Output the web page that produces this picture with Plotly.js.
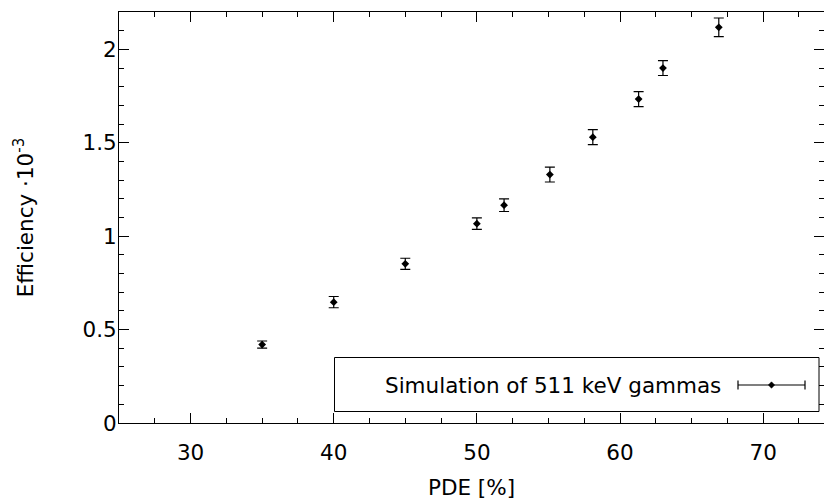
<!DOCTYPE html>
<html>
<head>
<meta charset="utf-8">
<script src="https://cdn.plot.ly/plotly-3.0.1.min.js"></script>
<style>html,body{margin:0;padding:0;background:#fff;}#chart{width:824px;height:502px;}</style>
</head>
<body>
<div id="chart"></div>
<script>
// Data
const pde = [35.0, 40.0, 45.0, 50.0, 51.9, 55.1, 58.1, 61.3, 63.0, 66.9];
const efficiency = [0.420, 0.647, 0.852, 1.067, 1.166, 1.330, 1.530, 1.734, 1.900, 2.118];
const efficiencyErr = [0.019, 0.030, 0.030, 0.031, 0.034, 0.040, 0.040, 0.040, 0.040, 0.050];
const seriesName = 'Simulation of 511 keV gammas';
const xTitle = 'PDE [%]';
const yTitle = 'Efficiency ·10<sup>-3</sup>';

const W = 824, H = 502;
const M = {l: 119, r: 0, t: 12, b: 79};
const PW = W - M.l - M.r, PH = H - M.t - M.b;
const px = x => (x - M.l) / PW;
const py = y => (H - M.b - y) / PH;

const font = {family: 'DejaVu Sans, sans-serif', size: 21.5, color: '#000'};

const trace = {
  x: pde, y: efficiency, type: 'scatter', mode: 'markers', name: seriesName,
  marker: {symbol: 'diamond', size: 6, color: '#000'},
  error_y: {type: 'data', array: efficiencyErr, visible: true, color: '#000', thickness: 1.2, width: 5},
  showlegend: false
};

// Legend drawn gnuplot-style
const lg = {x0: 334.5, x1: 819, y0: 357.5, y1: 411.5, sy: 385, sx0: 738, sx1: 805, sxm: 771.5};
const d = 3.2;
const shapes = [
  {type: 'rect', xref: 'paper', yref: 'paper', x0: px(lg.x0), x1: px(lg.x1), y0: py(lg.y1), y1: py(lg.y0),
   line: {color: '#000', width: 1}, fillcolor: '#fff', layer: 'above'},
  {type: 'line', xref: 'paper', yref: 'paper', x0: px(lg.sx0), x1: px(lg.sx1), y0: py(lg.sy), y1: py(lg.sy), line: {color: '#000', width: 1.2}},
  {type: 'line', xref: 'paper', yref: 'paper', x0: px(lg.sx0), x1: px(lg.sx0), y0: py(lg.sy - 4.5), y1: py(lg.sy + 4.5), line: {color: '#000', width: 1.2}},
  {type: 'line', xref: 'paper', yref: 'paper', x0: px(lg.sx1), x1: px(lg.sx1), y0: py(lg.sy - 4.5), y1: py(lg.sy + 4.5), line: {color: '#000', width: 1.2}},
  {type: 'path', xref: 'paper', yref: 'paper', fillcolor: '#000', line: {color: '#000', width: 0.5},
   path: `M ${px(lg.sxm - d)} ${py(lg.sy)} L ${px(lg.sxm)} ${py(lg.sy - d)} L ${px(lg.sxm + d)} ${py(lg.sy)} L ${px(lg.sxm)} ${py(lg.sy + d)} Z`}
];

const layout = {
  width: W, height: H, margin: M,
  paper_bgcolor: '#fff', plot_bgcolor: '#fff',
  font: font, showlegend: false,
  xaxis: {
    range: [25, 74.25], dtick: 10, tick0: 0, ticks: 'inside', ticklen: 10, tickwidth: 1, tickcolor: '#000',
    minor: {dtick: 2.5, ticks: 'inside', ticklen: 5, tickwidth: 1, tickcolor: '#000', showgrid: false},
    showline: true, linecolor: '#000', linewidth: 1, mirror: 'allticks', showgrid: false, zeroline: false,
    tickfont: font, ticklabelstandoff: 10,
    title: {text: xTitle, font: font, standoff: 16}, automargin: false
  },
  yaxis: {
    range: [0, 2.2], dtick: 0.5, tick0: 0, ticks: 'inside', ticklen: 10, tickwidth: 1, tickcolor: '#000',
    minor: {dtick: 0.1, ticks: 'inside', ticklen: 5, tickwidth: 1, tickcolor: '#000', showgrid: false},
    showline: true, linecolor: '#000', linewidth: 1, mirror: 'allticks', showgrid: false, zeroline: false,
    tickfont: font, ticklabelstandoff: -3,
    title: {text: yTitle, font: font, standoff: 42}, automargin: false
  },
  shapes: shapes,
  annotations: [
    {xref: 'paper', yref: 'paper', x: px(723), y: py(lg.sy), xanchor: 'right', yanchor: 'middle',
     text: seriesName, showarrow: false, font: font}
  ]
};

Plotly.newPlot('chart', [trace], layout, {staticPlot: true, displayModeBar: false});
</script>
</body>
</html>
